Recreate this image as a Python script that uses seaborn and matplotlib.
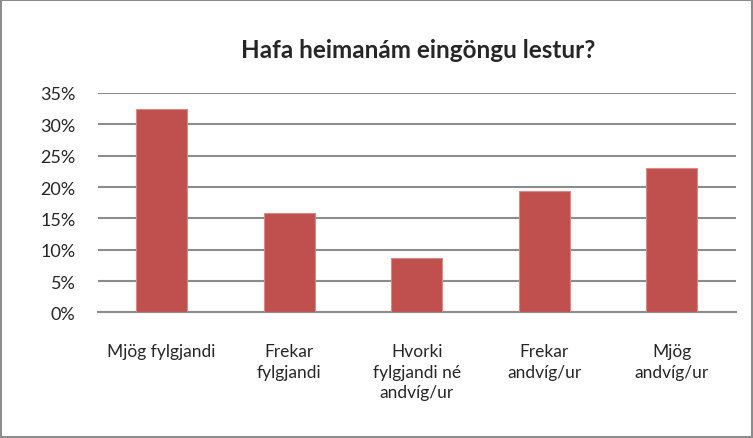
import pandas as pd
import seaborn as sns
import matplotlib.pyplot as plt
from matplotlib.ticker import PercentFormatter

# Data
categories = ["Mjög fylgjandi", "Frekar\nfylgjandi", "Hvorki\nfylgjandi né\nandvíg/ur",
              "Frekar\nandvíg/ur", "Mjög\nandvíg/ur"]
shares = [32.5, 15.9, 8.7, 19.3, 23.0]
title = "Hafa heimanám eingöngu lestur?"

df = pd.DataFrame({"svar": categories, "hlutfall": shares})

sns.set_style("white")
plt.rcParams['font.family'] = ['Lato', 'DejaVu Sans']

fig = plt.figure(figsize=(7.53, 4.39), dpi=100)
fig.patch.set_edgecolor("#8c8c8c")
fig.patch.set_linewidth(1.5)
ax = fig.add_axes([0.130, 0.286, 0.847, 0.500])

sns.barplot(data=df, x="svar", y="hlutfall", color="#C0504D", width=0.4,
            saturation=1, edgecolor="#d98a88", linewidth=0.8, ax=ax, zorder=3)

ax.set_ylim(0, 35)
ax.set_yticks(range(0, 36, 5))
ax.yaxis.set_major_formatter(PercentFormatter(decimals=0))
ax.grid(axis="y", color="#8c8c8c", linewidth=1.5, zorder=0)
ax.set_axisbelow(True)
for s in ["left", "right", "top"]:
    ax.spines[s].set_visible(False)
ax.spines["bottom"].set_color("#8c8c8c")
ax.spines["bottom"].set_linewidth(1.5)
ax.tick_params(axis="y", length=0, pad=16, labelsize=13)
ax.tick_params(axis="x", length=0, pad=22, labelsize=12.5)
ax.set_xlabel("")
ax.set_ylabel("")
for lab in ax.get_xticklabels():
    lab.set_verticalalignment("top")
    lab.set_linespacing(1.35)

fig.text(0.555, 0.886, title, ha="center", va="center", fontsize=17.5, fontweight="bold")

fig.savefig("out.png", dpi=100)
